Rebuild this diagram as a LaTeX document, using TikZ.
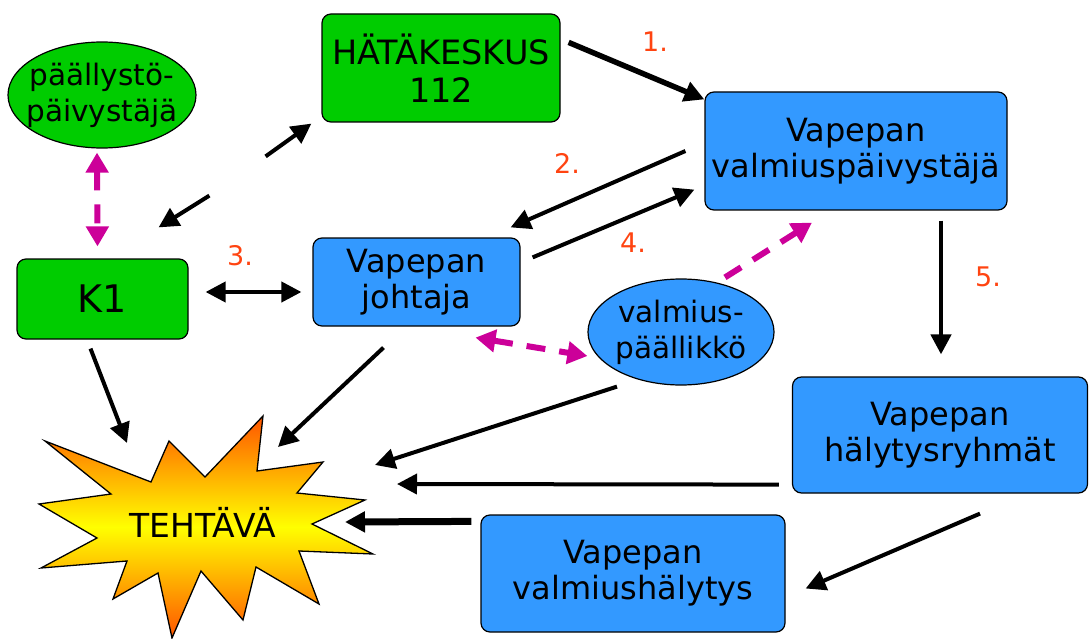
\documentclass[tikz,border=0pt]{standalone}
\usepackage{fontspec}
\setmainfont{DejaVu Sans}
\usetikzlibrary{arrows.meta,shapes.geometric,calc}
\definecolor{grn}{HTML}{00CC00}
\definecolor{blu}{HTML}{3399FF}
\definecolor{mag}{HTML}{CC0099}
\definecolor{lab}{HTML}{FF4411}
\definecolor{starorange}{HTML}{FF5500}
\definecolor{staryellow}{HTML}{FFFF00}
\tikzset{
  box/.style={draw=black, line width=1.2pt, rounded corners=9pt, inner sep=0pt, align=center,
              font=\fontsize{32}{36}\selectfont},
  greenbox/.style={box, fill=grn},
  bluebox/.style={box, fill=blu},
  oval/.style={draw=black, line width=1.2pt, ellipse, inner sep=0pt},
  txt/.style={align=center, font=\fontsize{29.5}{36}\selectfont, inner sep=0pt},
  numlabel/.style={text=lab, font=\fontsize{27}{30}\selectfont, inner sep=0pt},
  arr/.style={line width=4pt, -{Triangle[length=20pt,width=20pt]}},
  dblarr/.style={line width=4pt, {Triangle[length=20pt,width=20pt]}-{Triangle[length=20pt,width=20pt]}},
  magarr/.style={draw=mag, line width=6pt, dash pattern=on 19pt off 14pt,
                 -{Triangle[length=20pt,width=22pt]}},
  magdbl/.style={draw=mag, line width=6pt, dash pattern=on 19pt off 14pt,
                 {Triangle[length=20pt,width=22pt]}-{Triangle[length=20pt,width=22pt]}},
}
\begin{document}
\begin{tikzpicture}[x=1pt,y=-1pt]
\useasboundingbox (0,0) rectangle (1089,639);

% star
\shadedraw[draw=black, line width=1.3pt, top color=starorange, bottom color=starorange, middle color=staryellow]
 (45,441) -- (151,482) -- (169,441) -- (205,477) -- (263,416) -- (257,471) -- (323,462)
 -- (297,493) -- (365,500) -- (312,524) -- (373,554) -- (299,551) -- (319,604) -- (256,567)
 -- (243,620) -- (201,571) -- (172,638) -- (158,573) -- (113,599) -- (127,561) -- (41,568)
 -- (97,538) -- (39,504) -- (111,494) -- cycle;
\node[txt, font=\fontsize{33}{36}\selectfont] (task) at (203,522) {TEHTÄVÄ};

% nodes
\node[greenbox, minimum width=238pt, minimum height=108pt, font=\fontsize{33.5}{38}\selectfont] (hat) at (441,68) {HÄTÄKESKUS\\112};
\node[bluebox, minimum width=302pt, minimum height=118pt] (vps) at (856,151) {Vapepan\\valmiuspäivystäjä};
\node[greenbox, minimum width=171pt, minimum height=80pt, font=\fontsize{38}{40}\selectfont] (k1) at (102.5,299) {K1};
\node[bluebox, minimum width=207pt, minimum height=88pt] (joh) at (416.5,282) {Vapepan\\johtaja};
\node[bluebox, minimum width=295pt, minimum height=116pt] (hr) at (940,435) {Vapepan\\hälytysryhmät};
\node[bluebox, minimum width=304pt, minimum height=117pt] (vh) at (633,573.5) {Vapepan\\valmiushälytys};
\node[oval, fill=grn, minimum width=188pt, minimum height=106pt] (pp) at (102,95) {};
\node[txt] (pptext) at (pp) {päällystö-\\päivystäjä};
\node[oval, fill=blu, minimum width=186pt, minimum height=106pt] (vp) at (681,332) {};
\node[txt] (vptext) at (vp) {valmius-\\päällikkö};

% labels
\node[numlabel] (l1) at (655,42) {1.};
\node[numlabel] (l2) at (567,163) {2.};
\node[numlabel] (l3) at (240,256) {3.};
\node[numlabel] (l4) at (633,243) {4.};
\node[numlabel] (l5) at (988,277) {5.};

% connectors
\draw[arr, line width=5.5pt] ($(hat.north east)+(8,29)$) -- ($(vps.north west)+(0,8)$);
\draw[arr] ($(vps.west)+(-19,0)$) -- ($(joh.north east)+(-10,-10)$);
\draw[arr] ($(joh.north east)+(12,20)$) -- ($(vps.south west)+(-10,-21)$);
\draw[dblarr] ($(k1.east)+(17,-7)$) -- ($(joh.west)+(-11,10)$);
\draw[arr] ($(k1.north east)+(77,-102)$) -- ($(hat.south west)+(-10,1)$);
\draw[arr] ($(hat.south west)+(-112,73)$) -- ($(k1.north east)+(-30,-31)$);
\draw[magdbl] ($(pp.south)+(-5,4)$) -- ($(k1.north)+(-5,-12)$);
\draw[magarr] ($(vp.north)+(44,-1)$) -- ($(vps.south)+(-44,12)$);
\draw[magdbl] ($(joh.south)+(59,11)$) -- ($(vp.west)+(0,24)$);
\draw[arr, line width=4.5pt] ($(vps.south)+(85,10)$) -- ($(hr.north)+(1,-22)$);
\draw[arr] ($(k1.south)+(-12,9)$) -- ($(task)+(-76,-79)$);
\draw[arr] ($(joh.south)+(-33,21)$) -- ($(task)+(75,-75)$);
\draw[arr] ($(vp.south)+(-64,1)$) -- ($(task)+(172,-57)$);
\draw[arr] ($(hr.south west)+(-13,-9)$) -- ($(task)+(194,-38)$);
\draw[arr, line width=7pt] ($(vh.north west)+(-9,7)$) -- ($(task)+(142,0)$);
\draw[arr] ($(hr.south)+(40,20)$) -- ($(vh.east)+(20,15)$);
\end{tikzpicture}
\end{document}
